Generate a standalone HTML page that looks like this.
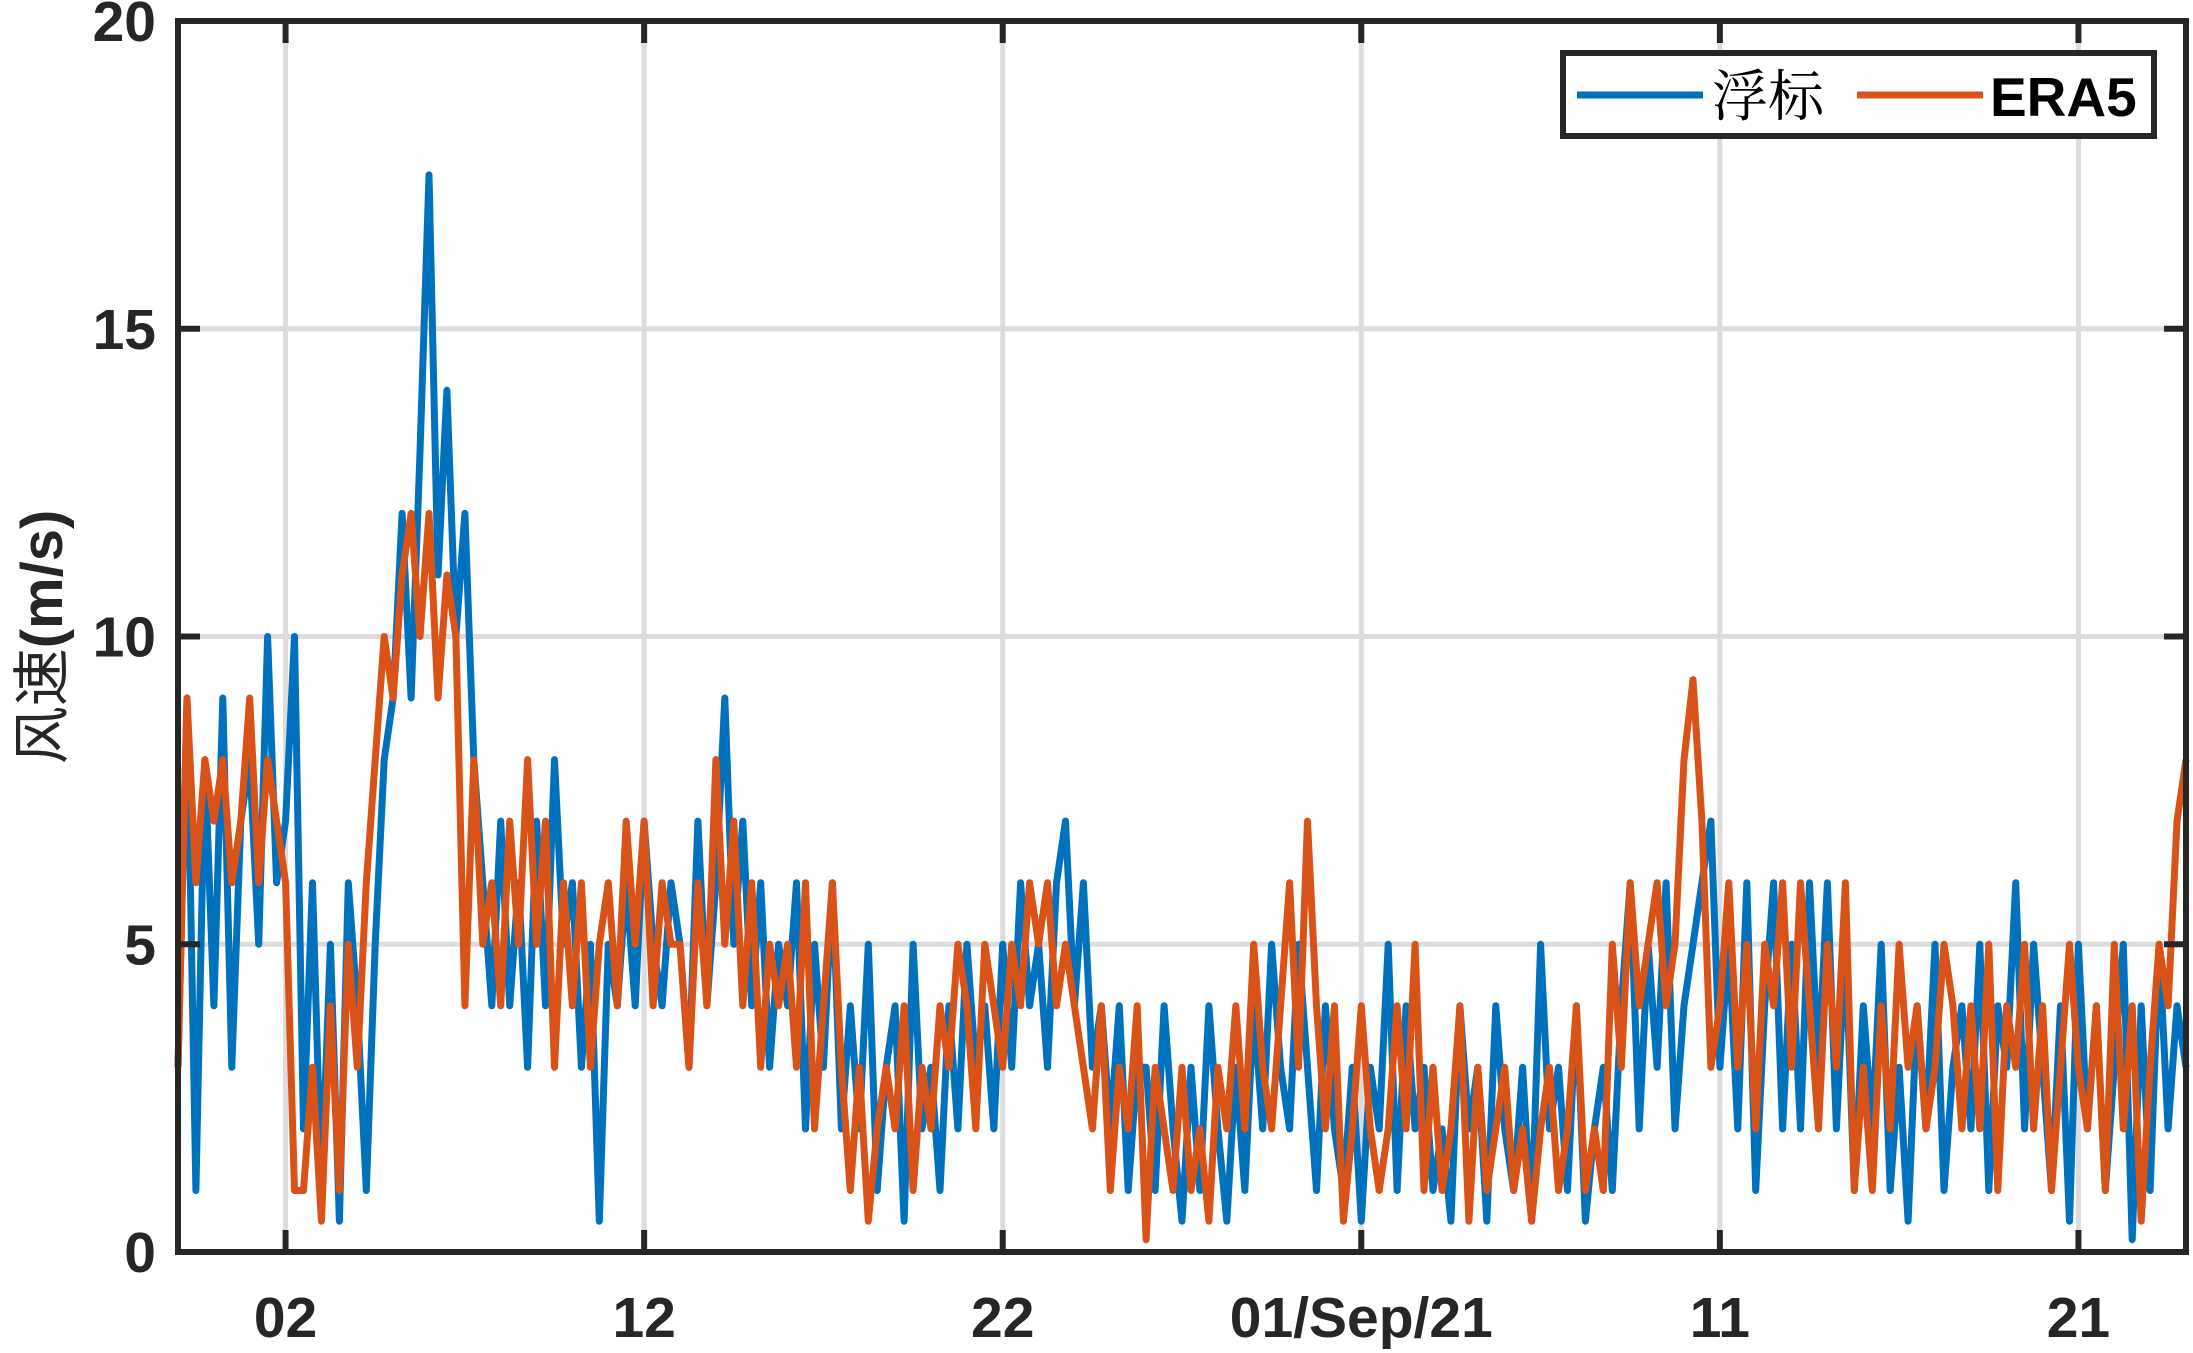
<!DOCTYPE html>
<html><head><meta charset="utf-8"><style>
html,body{margin:0;padding:0;background:#fff;}
svg{display:block;}
</style></head><body>
<svg id="chart" width="2193" height="1353" viewBox="0 0 2193 1353" xmlns="http://www.w3.org/2000/svg" font-family="'Liberation Sans','Noto Sans CJK SC',sans-serif">
<g id="grid"></g>
<g id="series"></g>
<g id="axes"></g>
<text transform="translate(62,637) rotate(-90)" text-anchor="middle" font-size="58" fill="#262626" font-family="'Liberation Sans','Noto Sans CJK SC',sans-serif"><tspan>风速</tspan><tspan font-weight="bold">(m/s)</tspan></text>
<g>
<rect x="1563" y="53" width="591" height="83" fill="#fff" stroke="#262626" stroke-width="6"/>
<line x1="1577" y1="95" x2="1703" y2="95" stroke="#0072BD" stroke-width="7"/>
<text x="1712" y="116" font-size="56" fill="#000" font-family="'Noto Serif CJK SC',serif">浮标</text>
<line x1="1857" y1="95" x2="1983" y2="95" stroke="#D95319" stroke-width="7"/>
<text x="1990" y="116" font-size="55" font-weight="bold" fill="#000">ERA5</text>
</g>
</svg>
<script>
const buoy = [3,9,1,8, 4,9,3,7, 8,5,10,6, 7,10,2,6, 1,5,0.5,6, 4,1,5,8, 9,12,9,13, 17.5,11,14,10, 12,8,6,4, 7,4,6,3, 7,4,8,5, 6,3,5,0.5, 5,4,6,4, 7,5,4,6, 5,3,7,4, 6,9,5,7, 4,6,3,5, 4,6,2,5, 3,6,2,4, 2,5,1,3, 4,0.5,5,2, 3,1,4,2, 5,3,4,2, 5,3,6,4, 5,3,6,7, 4,6,3,4, 2,4,1,3, 3,1,4,2, 0.5,3,1,4, 2,0.5,3,1, 4,2,5,3, 2,5,3,1, 4,2,1,3, 0.5,3,2,5, 1,4,2,3, 1,2,0.5,4, 2,3,0.5,4, 2,1,3,0.5, 5,2,3,1, 4,0.5,2,3, 1,4,6,2, 5,3,6,2, 4,5,6,7, 3,5,2,6, 1,4,6,2, 5,2,6,3, 6,2,5,1, 4,2,5,1, 3,0.5,4,2, 5,1,3,4, 2,5,1,4, 3,6,2,5, 3,1,4,0.5, 5,2,4,1, 3,5,0.2,4, 1,5,2,4, 3];
const era5 = [3,9,6,8, 7,8,6,7, 9,6,8,7, 6,1,1,3, 0.5,4,1,5, 3,6,8,10, 9,11,12,10, 12,9,11,10, 4,8,5,6, 4,7,5,8, 5,7,3,6, 4,6,3,5, 6,4,7,5, 7,4,6,5, 5,3,6,4, 8,5,7,4, 6,3,5,4, 5,3,6,2, 4,6,3,1, 3,0.5,2,3, 2,4,1,3, 2,4,3,5, 4,2,5,4, 3,5,4,6, 5,6,4,5, 4,3,2,4, 1,3,2,4, 0.2,3,2,1, 3,1,2,0.5, 3,2,4,2, 5,3,2,4, 6,3,7,4, 2,4,0.5,2, 4,2,1,2, 4,2,5,1, 3,1,2,4, 0.5,3,1,2, 3,1,2,0.5, 2,3,1,2, 4,1,2,1, 5,3,6,4, 5,6,4,5, 8,9.3,7,3, 4,6,3,5, 2,5,4,6, 3,6,4,2, 5,3,6,1, 3,1,4,2, 5,3,4,2, 3,5,4,2, 4,2,5,1, 4,3,5,2, 4,1,3,5, 3,2,4,1, 5,2,4,0.5, 3,5,4,7, 8];
const yTicks = [0,5,10,15,20];
const xTickDays = [3,13,23,33,43,53];
const xTickLabels = ['02','12','22','01/Sep/21','11','21'];
const samplesPerDay = 4;
const dayMax = 56;

const L=178,R=2186,T=21,B=1252;
const xs = d => L + (R-L)*d/dayMax;
const ys = v => B - (B-T)*v/20;
const NS='http://www.w3.org/2000/svg';
function mk(tag, attrs, parent){const e=document.createElementNS(NS,tag);for(const k in attrs)e.setAttribute(k,attrs[k]);parent.appendChild(e);return e;}
const grid=document.getElementById('grid'), axes=document.getElementById('axes'), series=document.getElementById('series');
yTicks.forEach(v=>{
  const g=mk('line',{x1:L,x2:R,y1:ys(v),y2:ys(v),stroke:'#dcdcdc','stroke-width':5},grid);
  
  
  const t=mk('line',{x1:L,x2:L+22,y1:ys(v),y2:ys(v),stroke:'#262626','stroke-width':6},axes);
  
  
  const t2=mk('line',{x1:R-22,x2:R,y1:ys(v),y2:ys(v),stroke:'#262626','stroke-width':6},axes);
  
  
  const lb=mk('text',{x:L-22,y:ys(v)+20,'text-anchor':'end','font-size':57,'font-weight':'bold',fill:'#262626'},axes);
  lb.textContent=v;
  
  
});
xTickDays.forEach((d,i)=>{
  const g=mk('line',{x1:xs(d),x2:xs(d),y1:T,y2:B,stroke:'#dcdcdc','stroke-width':5},grid);
  
  
  const t=mk('line',{x1:xs(d),x2:xs(d),y1:B-22,y2:B,stroke:'#262626','stroke-width':6},axes);
  
  
  const t2=mk('line',{x1:xs(d),x2:xs(d),y1:T,y2:T+22,stroke:'#262626','stroke-width':6},axes);
  
  
  const lb=mk('text',{x:xs(d),y:B+85,'text-anchor':'middle','font-size':57,'font-weight':'bold',fill:'#262626'},axes);
  lb.textContent=xTickLabels[i];
  
  
});
function pts(arr){return arr.map((v,i)=>xs(i/samplesPerDay).toFixed(1)+','+ys(v).toFixed(1)).join(' ');}
const pb=mk('polyline',{points:pts(buoy),fill:'none',stroke:'#0072BD','stroke-width':7,'stroke-linejoin':'round'},series);


const pe=mk('polyline',{points:pts(era5),fill:'none',stroke:'#D95319','stroke-width':7,'stroke-linejoin':'round'},series);


const box=mk('rect',{x:L,y:T,width:R-L,height:B-T,fill:'none',stroke:'#262626','stroke-width':6},axes);


</script>
</body></html>
